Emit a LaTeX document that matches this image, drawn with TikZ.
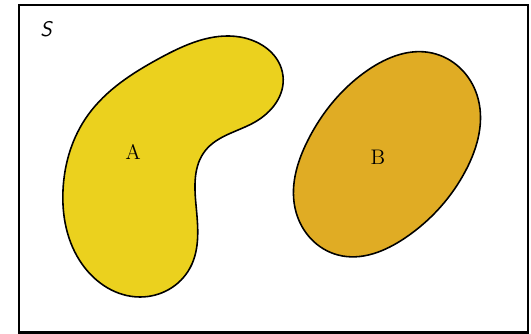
\documentclass[tikz,border=0pt]{standalone}
\usepackage{amsmath}
\usepackage{color}
\usetikzlibrary{hobby}

\definecolor{setA}{RGB}{235,209,30}
\definecolor{setB}{RGB}{224,172,36}

\begin{document}
\begin{tikzpicture}[x=0.02cm,y=-0.02cm,
	menge/.style={draw=black,line width=0.9pt,use Hobby shortcut,closed=true},
	lbl/.style={font=\large}]

\useasboundingbox (0,0) rectangle (531,334);

% Grundmenge
\draw[line width=1.2pt] (19,5) rectangle (528,332.5);
\node[font=\large\sffamily\itshape] (s) at (46,29) {S};

% Menge A
\draw[menge,fill=setA] (240,37) .. (283,76) .. (255,122) .. (205,151)
	.. (196,205) .. (190,268) .. (140,297) .. (82,264) .. (63,190)
	.. (88,115) .. (160,58);
\node[lbl] (a) at (133,152) {A};

% Menge B
\draw[menge,fill=setB] (432,53) .. (477,95) .. (466,170) .. (405,238)
	.. (338,255) .. (296,212) .. (308,140) .. (368,70);
\node[lbl] (b) at (378,157) {B};

\end{tikzpicture}
\end{document}
